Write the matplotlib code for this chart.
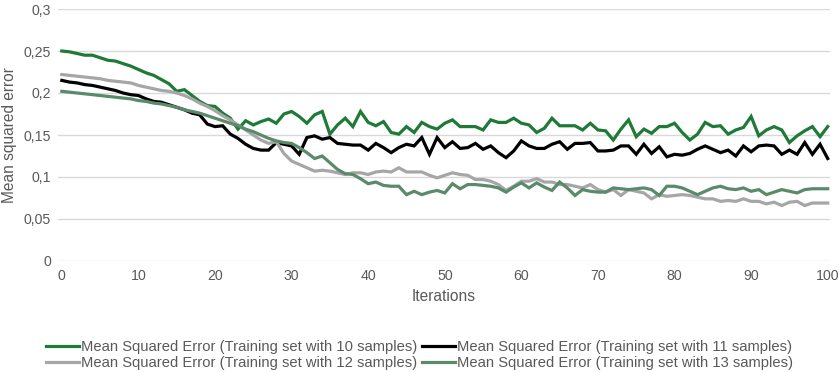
import matplotlib
matplotlib.use("Agg")
import matplotlib.pyplot as plt

plt.rcParams['font.family'] = ['Liberation Sans', 'DejaVu Sans']

iterations = list(range(101))

mse_10 = [0.250, 0.249, 0.247, 0.245, 0.245, 0.242, 0.239, 0.238, 0.235, 0.232,
          0.228, 0.224, 0.221, 0.216, 0.211, 0.202, 0.204, 0.197, 0.190, 0.185,
          0.184, 0.176, 0.170, 0.157, 0.167, 0.162, 0.166, 0.169, 0.164, 0.175,
          0.178, 0.172, 0.164, 0.174, 0.178, 0.151, 0.162, 0.170, 0.160, 0.178,
          0.165, 0.161, 0.166, 0.153, 0.151, 0.160, 0.153, 0.165, 0.160, 0.157,
          0.164, 0.168, 0.160, 0.160, 0.160, 0.156, 0.168, 0.165, 0.165, 0.170,
          0.164, 0.162, 0.153, 0.158, 0.170, 0.161, 0.161, 0.161, 0.156, 0.164,
          0.156, 0.155, 0.144, 0.157, 0.168, 0.148, 0.157, 0.152, 0.160, 0.160,
          0.164, 0.153, 0.144, 0.151, 0.165, 0.160, 0.161, 0.151, 0.156, 0.159,
          0.172, 0.149, 0.156, 0.160, 0.156, 0.141, 0.149, 0.155, 0.160, 0.148,
          0.160]

mse_11 = [0.215, 0.213, 0.212, 0.210, 0.209, 0.207, 0.205, 0.203, 0.200, 0.198,
          0.197, 0.193, 0.190, 0.189, 0.186, 0.183, 0.180, 0.176, 0.174, 0.163,
          0.160, 0.161, 0.151, 0.146, 0.139, 0.134, 0.132, 0.132, 0.141, 0.139,
          0.137, 0.127, 0.147, 0.149, 0.145, 0.147, 0.140, 0.139, 0.138, 0.138,
          0.132, 0.140, 0.135, 0.129, 0.135, 0.139, 0.137, 0.147, 0.127, 0.147,
          0.135, 0.142, 0.134, 0.135, 0.140, 0.133, 0.137, 0.129, 0.123, 0.131,
          0.143, 0.137, 0.134, 0.134, 0.139, 0.142, 0.133, 0.140, 0.140, 0.141,
          0.131, 0.131, 0.132, 0.137, 0.137, 0.127, 0.139, 0.128, 0.136, 0.124,
          0.127, 0.126, 0.128, 0.133, 0.137, 0.133, 0.129, 0.132, 0.125, 0.137,
          0.130, 0.137, 0.138, 0.137, 0.127, 0.132, 0.127, 0.141, 0.127, 0.139,
          0.122]

mse_12 = [0.222, 0.221, 0.220, 0.219, 0.218, 0.217, 0.215, 0.214, 0.213, 0.212,
          0.209, 0.207, 0.205, 0.203, 0.202, 0.200, 0.197, 0.193, 0.188, 0.184,
          0.179, 0.173, 0.168, 0.162, 0.156, 0.150, 0.144, 0.140, 0.142, 0.128,
          0.119, 0.115, 0.111, 0.107, 0.108, 0.107, 0.105, 0.103, 0.105, 0.105,
          0.103, 0.106, 0.107, 0.106, 0.111, 0.106, 0.106, 0.106, 0.102, 0.099,
          0.102, 0.105, 0.103, 0.102, 0.097, 0.097, 0.095, 0.091, 0.084, 0.089,
          0.095, 0.095, 0.098, 0.094, 0.094, 0.091, 0.091, 0.089, 0.087, 0.091,
          0.085, 0.082, 0.085, 0.078, 0.085, 0.083, 0.081, 0.074, 0.079, 0.077,
          0.078, 0.079, 0.078, 0.076, 0.074, 0.074, 0.071, 0.072, 0.071, 0.074,
          0.071, 0.071, 0.068, 0.070, 0.066, 0.070, 0.071, 0.066, 0.069, 0.069,
          0.069]

mse_13 = [0.202, 0.201, 0.200, 0.199, 0.198, 0.197, 0.196, 0.195, 0.194, 0.193,
          0.191, 0.190, 0.188, 0.187, 0.185, 0.183, 0.180, 0.178, 0.176, 0.173,
          0.170, 0.167, 0.164, 0.161, 0.157, 0.154, 0.150, 0.146, 0.143, 0.141,
          0.140, 0.135, 0.129, 0.122, 0.125, 0.117, 0.109, 0.104, 0.103, 0.098,
          0.092, 0.094, 0.090, 0.089, 0.089, 0.079, 0.083, 0.079, 0.082, 0.084,
          0.081, 0.092, 0.086, 0.091, 0.091, 0.090, 0.089, 0.087, 0.082, 0.088,
          0.093, 0.087, 0.093, 0.088, 0.084, 0.094, 0.087, 0.078, 0.085, 0.083,
          0.082, 0.082, 0.087, 0.086, 0.085, 0.086, 0.087, 0.085, 0.078, 0.089,
          0.089, 0.087, 0.083, 0.079, 0.083, 0.087, 0.089, 0.086, 0.085, 0.087,
          0.083, 0.085, 0.079, 0.082, 0.085, 0.083, 0.081, 0.085, 0.086, 0.086,
          0.086]

series_labels = [
    "Mean Squared Error (Training set with 10 samples)",
    "Mean Squared Error (Training set with 11 samples)",
    "Mean Squared Error (Training set with 12 samples)",
    "Mean Squared Error (Training set with 13 samples)",
]
series_colors = ["#1e7a36", "#000000", "#a6a6a6", "#5b8a6b"]

y_ticks = [0, 0.05, 0.1, 0.15, 0.2, 0.25, 0.3]
y_tick_labels = ["0", "0,05", "0,1", "0,15", "0,2", "0,25", "0,3"]
x_ticks = [0, 10, 20, 30, 40, 50, 60, 70, 80, 90, 100]

fig = plt.figure(figsize=(8.39, 3.72), dpi=100)
ax = fig.add_axes([58 / 839, 1 - 261 / 372, (830 - 58) / 839, (261 - 9) / 372])

handles = []
for values, label, color in zip([mse_10, mse_11, mse_12, mse_13], series_labels, series_colors):
    h, = ax.plot(iterations, values, color=color, linewidth=2.3, label=label,
                 solid_joinstyle='miter', zorder=3)
    handles.append(h)

ax.set_xlim(-0.5, 100.3)
ax.set_ylim(0, 0.3)
ax.set_yticks(y_ticks)
ax.set_yticklabels(y_tick_labels)
ax.set_xticks(x_ticks)

tick_color = "#595959"
ax.tick_params(axis='both', length=0, labelsize=10.2, labelcolor=tick_color)
ax.tick_params(axis='y', pad=5)
ax.tick_params(axis='x', pad=6)
ax.grid(axis='y', color="#d9d9d9", linewidth=1.0, zorder=0)
for side in ['top', 'right', 'left', 'bottom']:
    ax.spines[side].set_visible(False)

ax.set_xlabel("Iterations", fontsize=11.2, color=tick_color, labelpad=4)
ax.set_ylabel("Mean squared error", fontsize=11.2, color=tick_color, labelpad=5)

# legend filled row by row: 10, 11 on the first row, 12, 13 on the second
order = [0, 2, 1, 3]
fig.legend([handles[i] for i in order], [series_labels[i] for i in order],
           loc='center', bbox_to_anchor=(0.5, 1 - 355 / 372), ncol=2,
           frameon=False, fontsize=10.65, handlelength=2.2, handletextpad=0.12,
           columnspacing=0.35, labelspacing=0.12, labelcolor=tick_color,
           borderaxespad=0, borderpad=0)

fig.savefig("out.png", dpi=100)
